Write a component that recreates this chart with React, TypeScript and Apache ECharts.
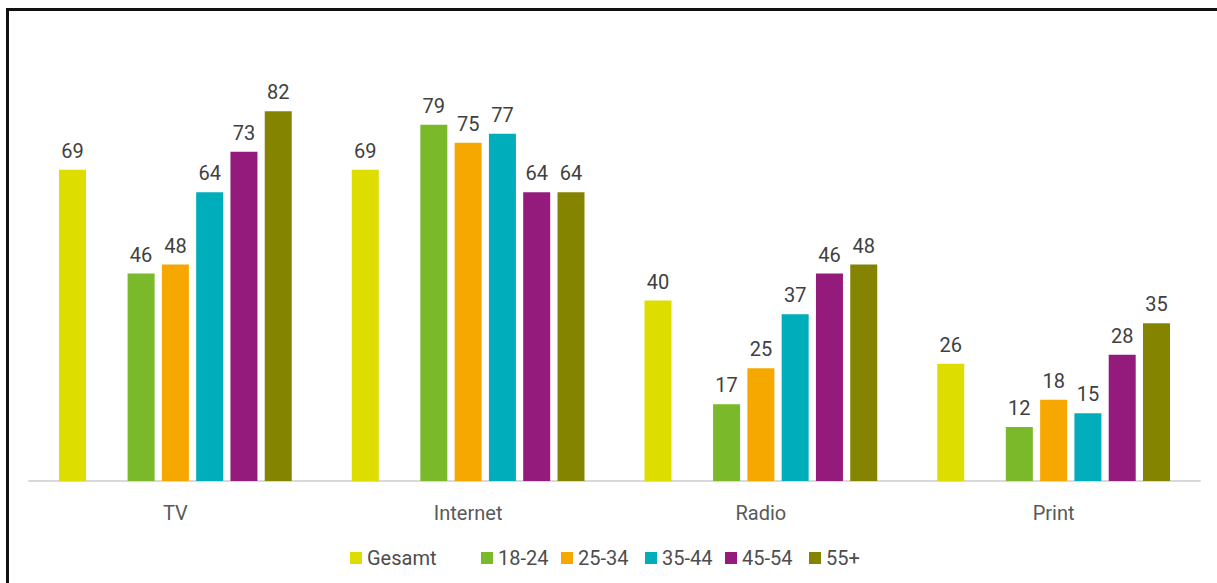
import React, { useEffect, useRef } from "react";
import * as echarts from "echarts";

const categories = ["TV", "Internet", "Radio", "Print"];
const seriesNames = ["Gesamt", "18-24", "25-34", "35-44", "45-54", "55+"];
const gesamt = [69, 69, 40, 26];
const age18_24 = [46, 79, 17, 12];
const age25_34 = [48, 75, 25, 18];
const age35_44 = [64, 77, 37, 15];
const age45_54 = [73, 64, 46, 28];
const age55plus = [82, 64, 48, 35];
const colors = ["#dedd00", "#7ab929", "#f6a800", "#00adba", "#941b7c", "#848400"];

const FONT = "Roboto, 'Noto Sans', sans-serif";

export default function App() {
  const ref = useRef<HTMLDivElement>(null);
  useEffect(() => {
    if (!ref.current) return;
    const chart = echarts.init(ref.current, null, { renderer: "svg" });
    const values = [gesamt, age18_24, age25_34, age35_44, age45_54, age55plus];
    const label = {
      show: true,
      position: "top",
      distance: 9,
      color: "#404040",
      fontSize: 20,
      fontFamily: FONT,
    };
    const mk = (i: number) => ({
      name: seriesNames[i],
      type: "bar",
      data: values[i],
      itemStyle: { color: colors[i] },
      label,
      barWidth: 27,
      barGap: "27%",
    });
    const series: any[] = [
      mk(0),
      { name: "__gap", type: "bar", data: categories.map(() => "-"), barWidth: 27, barGap: "27%" },
      mk(1),
      mk(2),
      mk(3),
      mk(4),
      mk(5),
    ];
    const legendX = [345, 476, 556, 640, 720, 804];
    const legends = seriesNames.map((n, i) => ({
      data: [n],
      left: legendX[i],
      top: 543,
      icon: "rect",
      itemWidth: 12,
      itemHeight: 12,
      itemGap: 0,
      selectedMode: false,
      textStyle: { color: "#4d4d4d", fontSize: 20, fontFamily: FONT, padding: [0, 0, 0, 0] },
    }));
    chart.setOption({
      animation: false,
      grid: { left: 29, right: 17, top: 30, bottom: 102 },
      xAxis: {
        type: "category",
        data: categories,
        axisLine: { lineStyle: { color: "#d9d9d9", width: 2 } },
        axisTick: { show: false },
        axisLabel: { color: "#595959", fontSize: 20, fontFamily: FONT, margin: 22 },
      },
      yAxis: { type: "value", min: 0, max: 100, show: false, splitLine: { show: false } },
      legend: legends,
      series,
      graphic: [
        { type: "rect", shape: { x: 6, y: 8, width: 3, height: 600 }, style: { fill: "#111" } },
        { type: "rect", shape: { x: 6, y: 8, width: 1220, height: 3 }, style: { fill: "#111" } },
      ],
    });
    return () => chart.dispose();
  }, []);
  return (
    <div
      ref={ref}
      style={{ position: "fixed", left: 0, top: 0, width: 1217, height: 583, background: "#fff" }}
    />
  );
}
